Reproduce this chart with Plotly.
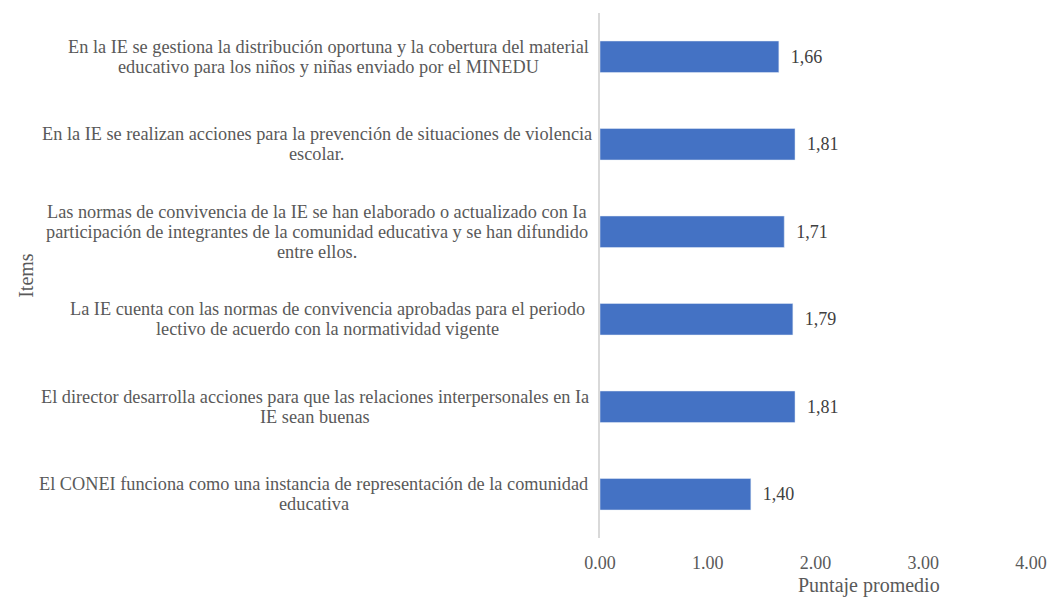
import plotly.graph_objects as go

# categories, bottom to top; each item as its wrapped lines
items = [
    ["El CONEI funciona como una instancia de representación de la comunidad",
     "educativa"],
    ["El director desarrolla acciones para que las relaciones interpersonales en Ia",
     "IE sean buenas"],
    ["La IE cuenta con las normas de convivencia aprobadas para el periodo",
     "lectivo de acuerdo con la normatividad vigente"],
    ["Las normas de convivencia de la IE se han elaborado o actualizado con Ia",
     "participación de integrantes de la comunidad educativa y se han difundido",
     "entre ellos."],
    ["En la IE se realizan acciones para la prevención de situaciones de violencia",
     "escolar."],
    ["En la IE se gestiona la distribución oportuna y la cobertura del material",
     "educativo para los niños y niñas enviado por el MINEDU"],
]
values = [1.40, 1.81, 1.79, 1.71, 1.81, 1.66]
x_ticks = [0, 1, 2, 3, 4]
x_tick_labels = ["0.00", "1.00", "2.00", "3.00", "4.00"]
x_title = "Puntaje promedio"
y_title = "Items"

# layout: horizontal centre (px from the plot's left edge) of each label block
label_centers_px = [-291, -290, -277, -288, -288, -276]
LINE_H = 20

FONT = "Times New Roman, Liberation Serif, serif"
labels = ["  " + f"{v:.2f}".replace(".", ",") for v in values]

fig = go.Figure(go.Bar(
    x=values, y=list(range(len(items))), orientation="h",
    marker=dict(color="#4472C4"),
    text=labels, textposition="outside", cliponaxis=False,
    textfont=dict(family=FONT, size=18, color="#404040"),
    hoverinfo="skip",
))

W, H = 1059, 598
ml, mr, mt, mb = 600, 21, 13, 60
pw = W - ml - mr

annotations = []
for i, lines in enumerate(items):
    n = len(lines)
    for j, line in enumerate(lines):
        annotations.append(dict(
            x=label_centers_px[i] / pw, xref="paper", y=i, yref="y",
            yshift=((n - 1) / 2 - j) * LINE_H,
            text=line, showarrow=False, xanchor="center", yanchor="middle",
            font=dict(family=FONT, size=18.3, color="#595959"),
        ))
annotations.append(dict(
    x=-584 / pw, xref="paper", y=0.5, yref="paper",
    text=y_title, showarrow=False, textangle=-90,
    xanchor="center", yanchor="middle",
    font=dict(family=FONT, size=20, color="#595959"),
))
annotations.append(dict(
    x=2.5, xref="x", y=0, yref="paper", yshift=-47,
    text=x_title, showarrow=False, xanchor="center", yanchor="middle",
    font=dict(family=FONT, size=20, color="#595959"),
))

fig.update_layout(
    width=W, height=H,
    margin=dict(l=ml, r=mr, t=mt, b=mb),
    plot_bgcolor="white", paper_bgcolor="white",
    bargap=0.64, showlegend=False,
    annotations=annotations,
    xaxis=dict(
        range=[0, 4], tickvals=x_ticks, ticktext=x_tick_labels,
        showgrid=False, zeroline=False, showline=False,
        tickfont=dict(family=FONT, size=18, color="#595959"),
        ticks="", ticklabelstandoff=12,
    ),
    yaxis=dict(
        range=[-0.5, len(items) - 0.5], showticklabels=False,
        showgrid=False, zeroline=False,
        showline=True, linecolor="#D9D9D9", linewidth=1.5, ticks="",
    ),
)

fig.write_html("out.html", config={"displayModeBar": False},
               post_script="document.body.style.margin='0';document.body.style.overflow='hidden';")
